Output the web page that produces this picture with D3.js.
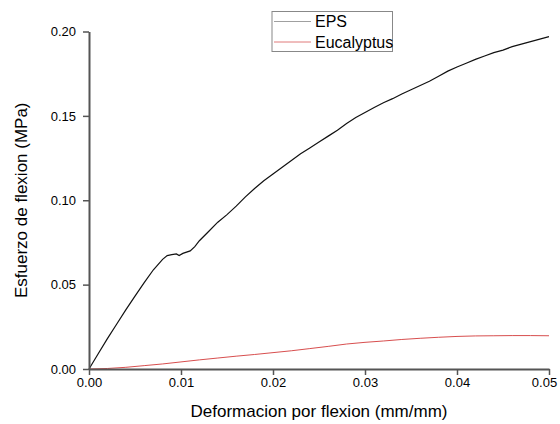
<!DOCTYPE html>
<html>
<head>
<meta charset="utf-8">
<script src="https://cdn.jsdelivr.net/npm/d3@7"></script>
<style>
  html, body { margin: 0; padding: 0; background: #fff; }
  svg { display: block; font-family: "Liberation Sans", Arial, sans-serif; }
</style>
</head>
<body>
<svg id="chart" width="560" height="424"></svg>
<script>
// ---- Data ----
const strainEPS = [0, 0.001, 0.002, 0.003, 0.004, 0.005, 0.006, 0.007, 0.008, 0.0085, 0.009, 0.0095, 0.0098, 0.0102, 0.011, 0.0115, 0.012, 0.013, 0.014, 0.015, 0.016, 0.017, 0.018, 0.019, 0.020, 0.021, 0.022, 0.023, 0.024, 0.025, 0.026, 0.027, 0.028, 0.029, 0.030, 0.031, 0.032, 0.033, 0.034, 0.035, 0.036, 0.037, 0.038, 0.039, 0.040, 0.041, 0.042, 0.043, 0.044, 0.045, 0.046, 0.047, 0.048, 0.049, 0.050];
const stressEPS = [0, 0.0090, 0.0180, 0.0265, 0.0350, 0.0432, 0.0512, 0.0588, 0.0650, 0.0672, 0.0678, 0.0682, 0.0672, 0.0685, 0.0700, 0.0725, 0.0760, 0.0815, 0.0870, 0.0915, 0.0965, 0.1020, 0.1070, 0.1115, 0.1155, 0.1195, 0.1235, 0.1275, 0.1310, 0.1345, 0.1380, 0.1415, 0.1455, 0.1490, 0.1520, 0.1550, 0.1578, 0.1602, 0.1630, 0.1655, 0.1680, 0.1705, 0.1735, 0.1765, 0.1790, 0.1812, 0.1835, 0.1855, 0.1875, 0.1890, 0.1910, 0.1925, 0.1940, 0.1955, 0.1970];

const strainEuc = [0, 0.002, 0.004, 0.006, 0.008, 0.010, 0.012, 0.014, 0.016, 0.018, 0.020, 0.022, 0.024, 0.026, 0.028, 0.030, 0.032, 0.034, 0.036, 0.038, 0.040, 0.042, 0.044, 0.046, 0.048, 0.050];
const stressEuc = [0, 0.0003, 0.0010, 0.0020, 0.0030, 0.0042, 0.0054, 0.0065, 0.0076, 0.0086, 0.0097, 0.0108, 0.0121, 0.0134, 0.0148, 0.0158, 0.0166, 0.0175, 0.0182, 0.0188, 0.0193, 0.0196, 0.0197, 0.0198, 0.0198, 0.0197];

const xTicks = [0, 0.01, 0.02, 0.03, 0.04, 0.05];
const yTicks = [0, 0.05, 0.10, 0.15, 0.20];
const seriesNames = ["EPS", "Eucalyptus"];
const seriesColors = ["#111111", "#d23a3a"];
const legendColors = ["#a0a0a0", "#e07a7a"];
const xLabel = "Deformacion por flexion (mm/mm)";
const yLabel = "Esfuerzo de flexion (MPa)";

// ---- Layout ----
const svg = d3.select("#chart");
const plotL = 89, plotR = 549, plotT = 31.5, plotB = 369;

const x = d3.scaleLinear().domain([0, 0.05]).range([plotL, plotR]);
const y = d3.scaleLinear().domain([0, 0.20]).range([plotB, plotT]);

const axisColor = "#555";

// Lines
const line = d3.line().x(d => x(d[0])).y(d => y(d[1]));
const dataEPS = strainEPS.map((v, i) => [v, stressEPS[i]]);
const dataEuc = strainEuc.map((v, i) => [v, stressEuc[i]]);

svg.append("path").datum(dataEuc)
  .attr("d", line).attr("fill", "none")
  .attr("stroke", seriesColors[1]).attr("stroke-width", 0.9);

svg.append("path").datum(dataEPS)
  .attr("d", line).attr("fill", "none")
  .attr("stroke", seriesColors[0]).attr("stroke-width", 1.2);

// Axes
const xAxis = d3.axisBottom(x).tickValues(xTicks).tickFormat(d3.format(".2f")).tickSize(6).tickSizeOuter(0);
const yAxis = d3.axisLeft(y).tickValues(yTicks).tickFormat(d3.format(".2f")).tickSize(6).tickSizeOuter(0);

const gx = svg.append("g").attr("transform", `translate(0,${plotB})`).call(xAxis);
const gy = svg.append("g").attr("transform", `translate(${plotL},0)`).call(yAxis);

[gx, gy].forEach(g => {
  g.select(".domain").attr("stroke", axisColor).attr("stroke-width", 2);
  g.selectAll(".tick line").attr("stroke", axisColor).attr("stroke-width", 1.5);
  g.selectAll(".tick text").attr("fill", "#000").style("font-size", "13px")
    .style("font-family", "'Liberation Sans', Arial, sans-serif");
});
gx.selectAll(".tick text").attr("dy", "0.9em").attr("y", 6);
// keep the last x label inside the window, as in the reference
gx.selectAll(".tick text").filter(d => d === 0.05).attr("x", -5);
gy.selectAll(".tick text").attr("x", -13);

// Axis titles
svg.append("text")
  .attr("x", (plotL + plotR) / 2).attr("y", 417)
  .attr("text-anchor", "middle")
  .style("font-size", "17px")
  .text(xLabel);

svg.append("text")
  .attr("transform", `translate(27,${(plotT + plotB) / 2}) rotate(-90)`)
  .attr("text-anchor", "middle")
  .style("font-size", "17px")
  .text(yLabel);

// Legend
const lg = svg.append("g");
lg.append("rect").attr("x", 272).attr("y", 11.5).attr("width", 120.5).attr("height", 40)
  .attr("fill", "#fff").attr("stroke", "#888").attr("stroke-width", 1);
seriesNames.forEach((name, i) => {
  const cy = 21.5 + i * 20.5;
  lg.append("line").attr("x1", 274).attr("x2", 311).attr("y1", cy).attr("y2", cy)
    .attr("stroke", legendColors[i]).attr("stroke-width", 1);
  lg.append("text").attr("x", 315).attr("y", cy + 5.5)
    .style("font-size", "16px").text(name);
});
</script>
</body>
</html>
